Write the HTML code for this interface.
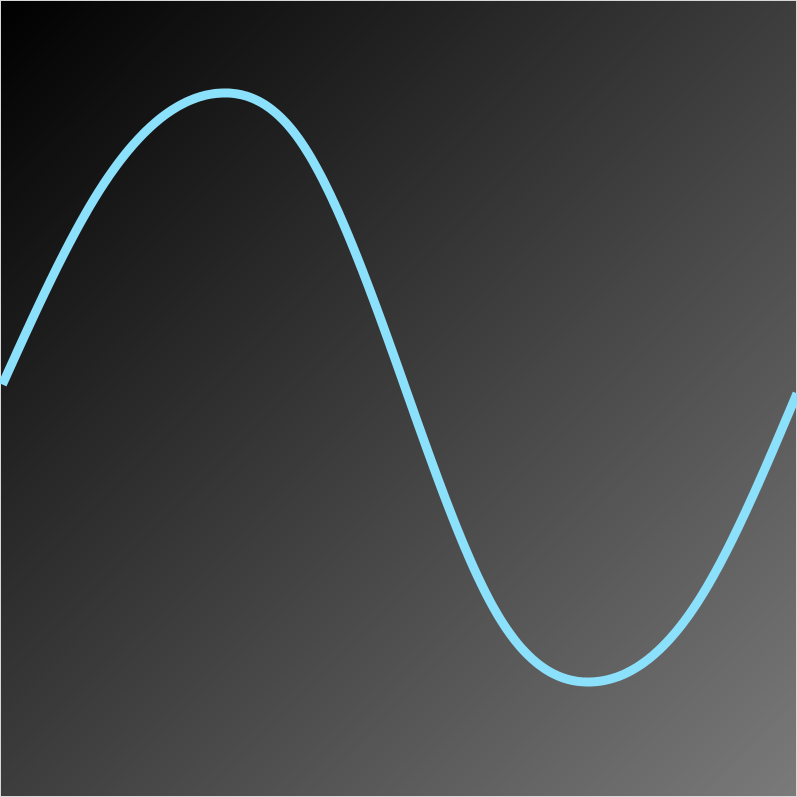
<!DOCTYPE html>
<html><head><meta charset="utf-8">
<style>
html,body{margin:0;padding:0;width:797px;height:797px;overflow:hidden;background:#000}
svg{display:block}
</style></head>
<body>
<svg id="chart" width="797" height="797" viewBox="0 0 797 797" xmlns="http://www.w3.org/2000/svg">
<defs>
<linearGradient id="bg" x1="0" y1="0" x2="1" y2="1">
<stop offset="0" stop-color="#000000"/>
<stop offset="1" stop-color="#7a7a7a"/>
</linearGradient>
</defs>
<rect x="0.5" y="0.5" width="796" height="796" fill="url(#bg)" stroke="#d8d8d8" stroke-width="1"/>
<path id="curve" fill="none" stroke="#8be0fb" stroke-width="9" stroke-linecap="butt"/>
</svg>
<script>
const xValues = [0.3, 12.5, 27.9, 37.6, 50.7, 62.4, 74, 87.5, 100];
const yValues = [0.01, 0.67, 1.0, 0.84, 0.01, -0.77, -1.0, -0.73, -0.02];
function xScale(v){ return v * 7.97; }
function yScale(v){ return 387.5 - v * 294.5; }
const n = xValues.length;
const X = xValues.map(xScale), Y = yValues.map(yScale);
const h = [], al = [], l = [1], mu = [0], z = [0], c = new Array(n).fill(0), b = [], dd = [];
for (let i = 0; i < n - 1; i++) h[i] = X[i+1] - X[i];
for (let i = 1; i < n - 1; i++) al[i] = 3/h[i]*(Y[i+1]-Y[i]) - 3/h[i-1]*(Y[i]-Y[i-1]);
for (let i = 1; i < n - 1; i++) {
  l[i] = 2*(X[i+1]-X[i-1]) - h[i-1]*mu[i-1];
  mu[i] = h[i]/l[i];
  z[i] = (al[i] - h[i-1]*z[i-1])/l[i];
}
for (let j = n - 2; j >= 0; j--) {
  c[j] = z[j] - mu[j]*c[j+1];
  b[j] = (Y[j+1]-Y[j])/h[j] - h[j]*(c[j+1]+2*c[j])/3;
  dd[j] = (c[j+1]-c[j])/(3*h[j]);
}
function spline(x){
  let j = 0;
  while (j < n - 2 && x > X[j+1]) j++;
  const t = x - X[j];
  return Y[j] + b[j]*t + c[j]*t*t + dd[j]*t*t*t;
}
let d = '';
for (let x = X[0]; x <= X[n-1] + 0.001; x += 2) {
  const xx = Math.min(x, X[n-1]);
  d += (d ? ' L' : 'M') + xx.toFixed(2) + ',' + spline(xx).toFixed(2);
}
d += ' L' + X[n-1].toFixed(2) + ',' + Y[n-1].toFixed(2);
document.getElementById('curve').setAttribute('d', d);
</script>
</body></html>
